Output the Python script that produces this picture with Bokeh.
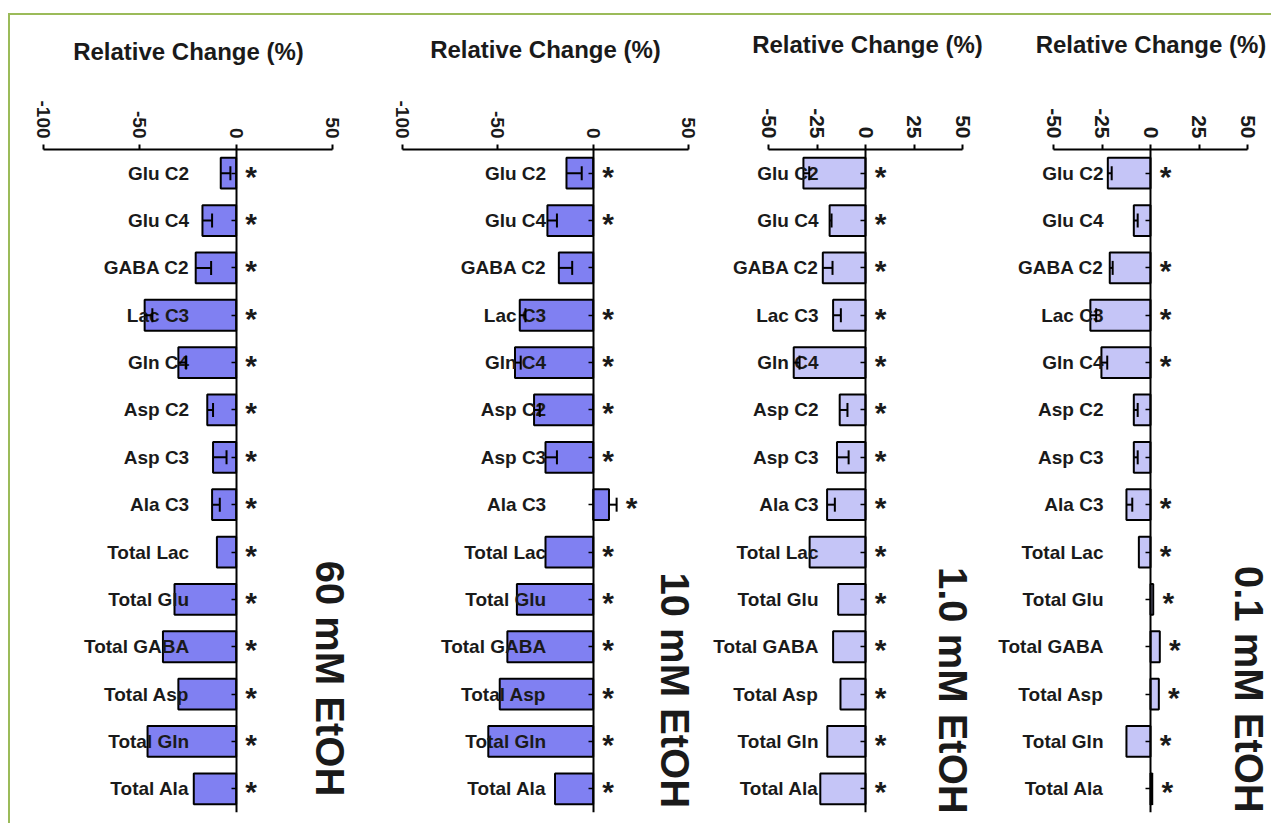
import math
from bokeh.plotting import figure
from bokeh.models import FactorRange, Range1d, FixedTicker, Whisker, TeeHead, ColumnDataSource, Label
from bokeh.layouts import row
from bokeh.embed import file_html
from bokeh.resources import INLINE
from bokeh.core.properties import value

# ---------------- data ----------------
categories = ["Glu C2", "Glu C4", "GABA C2", "Lac C3", "Gln C4", "Asp C2", "Asp C3",
              "Ala C3", "Total Lac", "Total Glu", "Total GABA", "Total Asp",
              "Total Gln", "Total Ala"]

axis_title = "Relative Change (%)"
panel_labels = ["60 mM EtOH", "10 mM EtOH", "1.0 mM EtOH", "0.1 mM EtOH"]

ticks_wide = [-100, -50, 0, 50]
tick_labels_wide = ["-100", "-50", "0", "50"]
ticks_narrow = [-50, -25, 0, 25, 50]
tick_labels_narrow = ["-50", "-25", "0", "25", "50"]

mm60_values = [-8, -17.5, -21, -47.5, -30, -15, -12, -12.5, -10, -32, -38, -30, -46, -22]
mm60_errors = [5, 5, 8, 4, 4, 3, 7, 4, 0, 0, 0, 0, 0, 0]
mm60_signif = [1, 1, 1, 1, 1, 1, 1, 1, 1, 1, 1, 1, 1, 1]

mm10_values = [-14, -24, -18, -38.5, -41, -31, -25, 8.3, -25, -40, -45, -49, -55, -20]
mm10_errors = [8, 5, 7, 3, 3, 3, 6, 4, 0, 0, 0, 0, 0, 0]
mm10_signif = [1, 1, 0, 1, 1, 1, 1, 1, 1, 1, 1, 1, 1, 1]

mm1_values = [-32, -18.5, -22, -16.7, -37, -13.3, -14.7, -19.8, -28.8, -14.1, -16.7, -12.9, -19.7, -23.3]
mm1_errors = [3, 1, 5, 4, 3, 4, 6, 4, 0, 0, 0, 0, 0, 0]
mm1_signif = [1, 1, 1, 1, 1, 1, 1, 1, 1, 1, 1, 1, 1, 1]

mm01_values = [-22, -8.6, -21, -31, -25.3, -8.6, -8.6, -12.4, -6, 1.4, 4.8, 4.3, -12.4, 0.9]
mm01_errors = [2, 2, 1.5, 3, 3, 2, 2, 3, 0, 0, 0, 0, 0, 0]
mm01_signif = [1, 0, 1, 1, 1, 0, 0, 1, 1, 1, 1, 1, 1, 1]

# ---------------- style ----------------
FONT = "Liberation Sans"
TXT = "#1a1a1a"
FIG_H = 808
NBSP = "\u00a0"


def make_panel(vals, errs, sig, xr, ticks, tlabels, color, label,
               fig_w, pad_l, pad_r, mbt, mbb, lab_x, lab_y, title_standoff, title_shift, tick_size):
    # frame covers the whole figure width; axis line limited with bounds
    frame_px = fig_w - pad_l - pad_r
    k = frame_px / (xr[1] - xr[0])
    x0 = xr[0] - pad_l / k
    x1 = xr[1] + pad_r / k
    p = figure(width=fig_w, height=FIG_H,
               y_range=FactorRange(factors=list(reversed(categories))),
               x_range=Range1d(x0, x1),
               x_axis_location="above",
               output_backend="svg", toolbar_location=None,
               min_border_left=0, min_border_right=0,
               min_border_top=mbt, min_border_bottom=mbb)
    p.xgrid.visible = False
    p.ygrid.visible = False
    p.outline_line_color = None
    p.background_fill_color = "white"
    p.border_fill_color = "white"

    src = ColumnDataSource(dict(cat=categories, val=vals))
    p.hbar(y="cat", left=0, right="val", height=0.65, source=src,
           fill_color=color, line_color="black", line_width=2)

    ecat, elo, ehi = [], [], []
    for c, v, e in zip(categories, vals, errs):
        if e > 0:
            ecat.append(c); elo.append(v); ehi.append(v + e)
    esrc = ColumnDataSource(dict(cat=ecat, lo=elo, hi=ehi))
    w = Whisker(base="cat", lower="lo", upper="hi", dimension="width", source=esrc,
                line_color="black", line_width=2,
                upper_head=TeeHead(size=14, line_color="black", line_width=2),
                lower_head=None, level="annotation")
    p.add_layout(w)

    scat, sx, stxt = [], [], []
    for c, v, e, s in zip(categories, vals, errs, sig):
        if s:
            scat.append(c); sx.append(max(0, v + e)); stxt.append("*")
    ssrc = ColumnDataSource(dict(cat=scat, x=sx, t=stxt))
    p.text(x="x", y="cat", text="t", source=ssrc, text_font=value(FONT),
           text_font_style="bold", text_font_size="30px", text_color=TXT,
           text_align="center", text_baseline="alphabetic", x_offset=15, y_offset=3)

    xa = p.xaxis[0]
    xa.bounds = (xr[0], xr[1])
    xa.ticker = FixedTicker(ticks=ticks, minor_ticks=[])
    xa.major_label_overrides = {t: s for t, s in zip(ticks, tlabels)}
    xa.major_label_orientation = -math.pi / 2
    xa.major_label_text_font = FONT
    xa.major_label_text_font_style = "bold"
    xa.major_label_text_font_size = tick_size
    xa.major_label_text_color = TXT
    xa.major_label_standoff = 6
    xa.major_tick_out = 5
    xa.major_tick_in = 0
    xa.minor_tick_out = 0
    xa.minor_tick_in = 0
    xa.axis_line_width = 2
    xa.major_tick_line_width = 2
    # axis label is centred on the frame; leading no-break spaces move it right
    xa.axis_label = NBSP * title_shift + axis_title
    xa.axis_label_text_font = FONT
    xa.axis_label_text_font_style = "bold"
    xa.axis_label_text_font_size = "24px"
    xa.axis_label_text_color = TXT
    xa.axis_label_standoff = title_standoff

    ya = p.yaxis[0]
    ya.fixed_location = 0
    ya.major_label_text_font = FONT
    ya.major_label_text_font_style = "bold"
    ya.major_label_text_font_size = "19px"
    ya.major_label_text_color = TXT
    ya.major_label_standoff = 42
    ya.major_tick_out = 5
    ya.major_tick_in = 0
    ya.major_tick_line_width = 1.5
    ya.axis_line_width = 2

    p.add_layout(Label(x=lab_x, y=lab_y, text=label, angle=-math.pi / 2,
                       text_align="center", text_baseline="middle",
                       text_font=FONT, text_font_style="bold",
                       text_font_size="40px", text_color=TXT))
    return p


p1 = make_panel(mm60_values, mm60_errors, mm60_signif, (-100, 50), ticks_wide, tick_labels_wide,
                "#8080f2", panel_labels[0], 356, 33, 34, 134, 1, 48.6, 2.83, 32, 0, "19px")
p2 = make_panel(mm10_values, mm10_errors, mm10_signif, (-100, 50), ticks_wide, tick_labels_wide,
                "#8080f2", panel_labels[1], 338, 36, 16, 131, 3, 43.1, 2.58, 34, 3, "19px")
p3 = make_panel(mm1_values, mm1_errors, mm1_signif, (-50, 50), ticks_narrow, tick_labels_narrow,
                "#c5c5f7", panel_labels[2], 286, 64, 28, 122, 10, 45.2, 2.58, 47, 6, "21px")
p4 = make_panel(mm01_values, mm01_errors, mm01_signif, (-50, 50), ticks_narrow, tick_labels_narrow,
                "#c5c5f7", panel_labels[3], 281, 63, 24, 122, 11, 50.7, 2.6, 47, 6, "21px")

layout = row(p1, p2, p3, p4,
             styles={"border-left": "2px solid #9bbb59",
                     "border-top": "2px solid #9bbb59",
                     "margin": "13px 0 0 8px"})

open("out.html", "w").write(file_html(layout, INLINE))
